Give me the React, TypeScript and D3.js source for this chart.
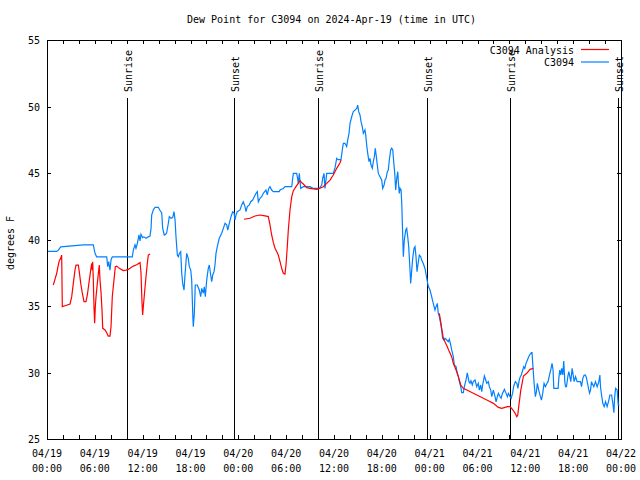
import React from 'react';
import * as d3 from 'd3';

// ---- data (hours since 2024-04-19 00:00 UTC, dew point °F) ----
const obsSeries: [number, number][] = [
  [0,39.1],[1.22,39.1],[1.42,39.2],[1.72,39.45],[4.55,39.6],[5.81,39.6],[6.02,38.96],[6.23,38.7],[7.49,38.7],[7.61,37.96],[7.74,38.33],[7.90,37.7],[8.03,38.46],[8.19,38.7],[10.70,38.7],[10.83,39.2],[11.04,39.6],[11.16,39.34],[11.33,39.7],[11.54,40.34],[11.67,39.9],[11.79,40.4],[12.0,40.14],[12.17,40.2],[12.42,40.1],[12.71,40.2],[12.92,40.25],[13.05,40.84],[13.13,41.84],[13.33,42.22],[13.55,42.42],[13.96,42.42],[14.17,42.2],[14.39,42.0],[14.51,40.84],[14.71,40.34],[14.89,40.4],[15.01,40.5],[15.22,41.22],[15.34,41.72],[15.56,41.6],[15.77,41.65],[15.93,42.1],[16.06,41.5],[16.18,40.2],[16.35,38.83],[16.47,38.7],[16.60,38.95],[16.77,39.08],[16.90,37.46],[17.02,36.7],[17.19,36.2],[17.31,37.33],[17.52,38.96],[17.72,38.58],[17.85,37.96],[18.03,37.7],[18.15,36.95],[18.28,34.45],[18.35,33.45],[18.48,34.45],[18.60,36.58],[18.85,36.58],[19.10,36.2],[19.28,35.7],[19.41,36.33],[19.61,35.96],[19.73,36.45],[19.86,35.7],[20.03,36.95],[20.23,37.83],[20.36,38.08],[20.53,37.33],[20.66,36.83],[20.79,37.33],[20.95,37.58],[21.07,38.08],[21.20,38.96],[21.36,39.46],[21.61,40.09],[21.91,40.47],[22.12,40.84],[22.33,41.22],[22.54,41.1],[22.67,40.71],[22.87,41.22],[23.08,41.72],[23.29,42.09],[23.46,42.0],[23.58,41.47],[23.71,41.84],[23.87,42.09],[24.21,42.22],[24.42,42.6],[24.62,42.84],[24.84,42.47],[24.96,42.09],[25.13,42.47],[25.38,42.6],[25.55,42.84],[25.80,42.97],[25.97,43.17],[26.22,43.47],[26.38,43.6],[26.51,42.84],[26.72,43.1],[26.93,43.22],[27.13,43.47],[27.47,43.72],[27.63,43.35],[27.81,43.84],[27.97,43.97],[28.18,43.72],[28.38,43.6],[29.14,43.6],[29.23,43.72],[29.64,43.84],[29.85,43.97],[30.70,43.97],[30.82,44.6],[30.90,44.97],[31.32,44.97],[31.45,44.53],[31.52,44.2],[31.65,44.97],[31.82,43.84],[32.15,43.97],[32.99,43.97],[33.41,43.84],[34.16,43.84],[34.46,44.1],[34.58,44.6],[34.75,44.97],[34.87,43.84],[35.09,44.97],[35.91,44.97],[36.13,45.4],[36.34,46.1],[36.54,46.0],[36.88,46.0],[37.04,46.73],[37.17,47.23],[37.38,47.23],[37.59,46.98],[37.72,47.48],[37.88,47.98],[38.01,48.74],[38.22,49.23],[38.42,49.61],[38.63,49.73],[38.85,49.86],[38.97,50.1],[39.10,49.61],[39.26,49.36],[39.39,48.86],[39.55,48.48],[39.68,47.98],[39.89,48.23],[39.98,47.86],[40.10,47.1],[40.23,46.48],[40.39,45.85],[40.52,46.1],[40.64,45.6],[40.81,45.35],[40.93,45.85],[41.06,46.23],[41.18,46.86],[41.31,46.23],[41.43,45.6],[41.56,44.97],[41.77,44.72],[41.98,44.47],[42.11,43.85],[42.28,44.1],[42.40,44.47],[42.53,44.6],[42.69,45.1],[42.81,45.22],[42.94,45.98],[43.11,46.73],[43.24,46.86],[43.37,46.73],[43.49,45.85],[43.62,44.97],[43.74,43.72],[43.87,44.6],[44.00,45.1],[44.07,44.35],[44.19,43.47],[44.28,43.85],[44.41,43.72],[44.50,42.72],[44.62,40.21],[44.70,38.7],[44.82,39.96],[45.00,40.71],[45.12,40.84],[45.25,40.21],[45.37,39.46],[45.50,38.08],[45.62,36.7],[45.75,37.7],[45.87,38.58],[46.04,39.34],[46.16,39.46],[46.29,38.7],[46.41,37.58],[46.58,38.33],[46.70,38.83],[46.88,38.7],[47.00,38.45],[47.20,38.2],[47.42,37.8],[47.54,37.4],[47.66,37.0],[47.82,36.5],[48.04,36.2],[48.25,35.7],[48.45,35.2],[48.67,34.7],[48.80,34.95],[48.96,35.2],[49.08,34.45],[49.21,34.2],[49.38,33.7],[49.51,33.2],[49.63,32.57],[49.80,32.44],[49.92,32.57],[50.14,32.44],[50.34,32.32],[50.46,32.5],[50.64,32.07],[50.76,31.7],[50.97,31.19],[51.09,30.56],[51.31,30.44],[51.47,29.94],[51.60,29.69],[51.72,29.31],[51.90,28.93],[52.02,28.48],[52.22,28.48],[52.35,28.93],[52.56,29.44],[52.72,29.98],[52.93,29.31],[53.06,29.19],[53.18,29.38],[53.35,29.06],[53.47,29.31],[53.69,29.44],[53.90,28.93],[54.10,29.19],[54.23,28.68],[54.40,29.06],[54.53,28.56],[54.65,29.06],[54.86,29.74],[55.03,29.44],[55.16,29.19],[55.36,29.31],[55.49,28.93],[55.66,28.68],[55.79,28.18],[55.99,28.68],[56.20,28.18],[56.33,27.8],[56.49,28.18],[56.62,28.43],[56.83,28.18],[56.96,28.06],[57.12,28.43],[57.25,28.56],[57.37,28.74],[57.59,28.43],[57.75,28.18],[57.88,28.43],[58.09,28.18],[58.22,28.06],[58.40,28.43],[58.53,28.93],[58.74,29.31],[58.94,29.19],[59.07,28.81],[59.24,29.44],[59.37,29.69],[59.49,29.81],[59.68,30.19],[59.80,30.44],[59.93,30.31],[60.09,30.69],[60.34,31.06],[60.52,31.31],[60.77,31.49],[60.84,31.49],[60.97,30.31],[61.10,29.19],[61.18,28.68],[61.26,28.18],[61.39,28.56],[61.51,29.19],[61.68,28.68],[61.89,28.18],[62.02,27.93],[62.18,28.43],[62.35,29.19],[62.52,28.93],[62.72,29.19],[62.85,29.31],[63.03,29.81],[63.23,30.31],[63.35,30.69],[63.48,30.19],[63.57,28.81],[64.11,28.81],[64.20,29.56],[64.32,30.19],[64.45,29.81],[64.57,30.31],[64.70,29.81],[64.82,30.86],[64.95,29.31],[65.04,28.93],[65.16,28.93],[65.33,29.69],[65.45,30.06],[65.58,29.69],[65.70,29.31],[65.87,30.31],[66.0,29.81],[66.12,29.31],[66.30,29.69],[66.50,29.31],[66.92,29.31],[67.05,28.93],[67.21,29.56],[67.38,29.81],[67.55,29.81],[67.68,29.56],[67.84,29.06],[68.05,28.44],[68.18,28.68],[68.30,29.31],[68.38,29.19],[68.59,28.93],[68.80,29.31],[69.01,28.93],[69.22,29.31],[69.35,29.81],[69.43,28.93],[69.56,28.31],[69.72,27.68],[69.89,27.43],[70.06,27.81],[70.26,27.43],[70.48,27.93],[70.60,28.31],[70.82,28.31],[70.98,27.68],[71.11,26.98],[71.20,28.1],[71.32,28.81],[71.52,28.68],[71.65,27.56],[71.80,27.56],
];

const analysisSeg1: [number, number][] = [
  [0.79,36.58],[1.00,37.0],[1.22,37.46],[1.42,38.1],[1.54,38.4],[1.72,38.58],[1.84,38.83],[1.92,34.95],[2.26,35.02],[2.89,35.15],[3.10,35.7],[3.30,36.7],[3.51,37.7],[3.64,38.08],[3.93,38.08],[4.05,37.58],[4.23,36.7],[4.43,35.96],[4.64,35.33],[4.89,35.33],[5.06,35.83],[5.31,36.95],[5.48,37.7],[5.61,38.2],[5.68,37.7],[5.73,38.33],[5.81,36.95],[5.90,34.83],[5.98,33.7],[6.06,34.95],[6.15,35.7],[6.31,36.7],[6.49,37.7],[6.56,38.08],[6.65,36.95],[6.77,36.08],[6.90,34.7],[6.99,33.32],[7.28,33.2],[7.49,32.99],[7.69,32.74],[7.90,32.74],[8.03,33.45],[8.19,35.7],[8.40,36.95],[8.57,37.96],[8.74,38.0],[9.07,37.83],[9.57,37.66],[9.91,37.7],[10.2,37.75],[10.41,37.83],[10.83,38.0],[11.25,38.1],[11.67,38.26],[11.79,37.5],[11.92,35.2],[12.0,34.32],[12.08,34.95],[12.21,35.83],[12.38,36.95],[12.58,38.2],[12.71,38.83],[12.92,38.9],
];
const analysisSeg2: [number, number][] = [
  [24.71,41.52],[25.46,41.6],[26.09,41.77],[26.72,41.84],[27.35,41.77],[27.76,41.72],[27.97,41.1],[28.18,40.34],[28.38,39.8],[28.60,39.34],[28.81,39.1],[29.01,38.83],[29.23,38.33],[29.44,37.83],[29.64,37.46],[29.85,37.4],[29.98,38.08],[30.14,39.46],[30.27,40.71],[30.48,42.22],[30.70,43.22],[30.90,43.67],[31.23,43.97],[31.52,44.22],[31.74,44.42],[31.95,44.27],[32.15,44.17],[32.58,43.9],[32.99,43.85],[33.41,43.8],[33.83,43.77],[34.16,43.84],[34.66,43.97],[35.09,44.22],[35.50,44.47],[35.91,44.85],[36.34,45.35],[36.76,45.77],[36.88,45.98],
];
const analysisSeg3: [number, number][] = [
  [49.21,34.45],[49.38,33.82],[49.51,33.3],[49.71,32.57],[49.92,32.32],[50.21,31.94],[50.46,31.57],[50.76,31.19],[50.97,30.69],[51.31,30.19],[51.60,29.69],[51.90,29.06],[52.22,28.81],[52.85,28.63],[53.47,28.44],[54.10,28.25],[54.73,28.06],[55.36,27.88],[55.99,27.68],[56.62,27.38],[57.04,27.3],[57.45,27.38],[57.75,27.43],[58.09,27.43],[58.43,27.2],[58.72,26.93],[58.93,26.68],[59.05,26.8],[59.22,27.68],[59.43,28.68],[59.63,29.3],[59.76,29.74],[60.18,29.94],[60.59,30.24],[61.01,30.31],
];

const sunEvents: [number, string][] = [
  [10.03, 'Sunrise'], [23.5, 'Sunset'], [34.03, 'Sunrise'], [47.62, 'Sunset'], [58.08, 'Sunrise'], [71.66, 'Sunset'],
];

const yTickValues = [25, 30, 35, 40, 45, 50, 55];
const TITLE = 'Dew Point for C3094 on 2024-Apr-19 (time in UTC)';
const Y_LABEL = 'degrees F';
const LEGEND = ['C3094 Analysis', 'C3094'];
const COLORS = ['#ff0000', '#0080ff'];

const START = Date.UTC(2024, 3, 19, 0, 0);
const toDate = (h: number) => new Date(START + h * 3600e3);

const FONT = '"DejaVu Sans Mono", "Liberation Mono", monospace';

export default function App() {
  const L = 47, R = 621, T = 40, B = 439;
  const x = d3.scaleUtc().domain([toDate(0), toDate(72)]).range([L, R]);
  const y = d3.scaleLinear().domain([25, 55]).range([B, T]);
  const line = d3.line<[number, number]>().x(d => x(toDate(d[0]))).y(d => y(d[1]));
  const minor = x.ticks(d3.utcHour.every(2) as any);
  const major = x.ticks(d3.utcHour.every(6) as any);
  const fmtDate = d3.utcFormat('%m/%d');
  const fmtTime = d3.utcFormat('%H:%M');

  return (
    <svg width={640} height={480} style={{ position: 'absolute', left: 0, top: 0, background: '#fff' }}
      fontFamily={FONT} fontSize={10}>
      <rect x={0} y={0} width={640} height={480} fill="#fff" />
      <text x={331.5} y={23} textAnchor="middle">{TITLE}</text>
      {/* sun event lines */}
      {sunEvents.map(([h, label], i) => {
        const xx = Math.round(x(toDate(h))) + 0.5;
        return (
          <g key={i}>
            <line x1={xx} x2={xx} y1={98} y2={B} stroke="#000" strokeWidth={1.2} shapeRendering="crispEdges" />
            <text transform={`translate(${xx + 4},92) rotate(-90)`} textAnchor="start">{label}</text>
          </g>
        );
      })}
      {/* data */}
      <path d={line(obsSeries) || ''} fill="none" stroke={COLORS[1]} strokeWidth={1.2} />
      {[analysisSeg1, analysisSeg2, analysisSeg3].map((s, i) => (
        <path key={i} d={line(s) || ''} fill="none" stroke={COLORS[0]} strokeWidth={1.2} />
      ))}
      {/* border */}
      <rect x={L + 0.5} y={T + 0.5} width={R - L} height={B - T} fill="none" stroke="#000" strokeWidth={1} shapeRendering="crispEdges" />
      {/* x ticks */}
      {minor.map((d, i) => {
        const xx = Math.round(x(d)) + 0.5;
        return (
          <g key={i}>
            <line x1={xx} x2={xx} y1={B} y2={B - 4} stroke="#000" shapeRendering="crispEdges" />
            <line x1={xx} x2={xx} y1={T} y2={T + 4} stroke="#000" shapeRendering="crispEdges" />
          </g>
        );
      })}
      {major.map((d, i) => {
        const xx = x(d);
        return (
          <g key={i}>
            <text x={xx} y={457} textAnchor="middle">{fmtDate(d)}</text>
            <text x={xx} y={472} textAnchor="middle">{fmtTime(d)}</text>
          </g>
        );
      })}
      {/* y ticks */}
      {yTickValues.map((v, i) => {
        const yy = Math.round(y(v)) + 0.5;
        return (
          <g key={i}>
            <line x1={L} x2={L + 4} y1={yy} y2={yy} stroke="#000" shapeRendering="crispEdges" />
            <line x1={R} x2={R - 4} y1={yy} y2={yy} stroke="#000" shapeRendering="crispEdges" />
            <text x={40} y={yy + 3.5} textAnchor="end">{v}</text>
          </g>
        );
      })}
      <text transform="translate(14,243) rotate(-90)" textAnchor="middle">{Y_LABEL}</text>
      {/* legend */}
      {LEGEND.map((t, i) => (
        <g key={i}>
          <text x={574} y={53.5 + i * 12.5} textAnchor="end">{t}</text>
          <line x1={581} x2={609} y1={49.5 + i * 12.5} y2={49.5 + i * 12.5} stroke={COLORS[i]} strokeWidth={1.2} />
        </g>
      ))}
    </svg>
  );
}
